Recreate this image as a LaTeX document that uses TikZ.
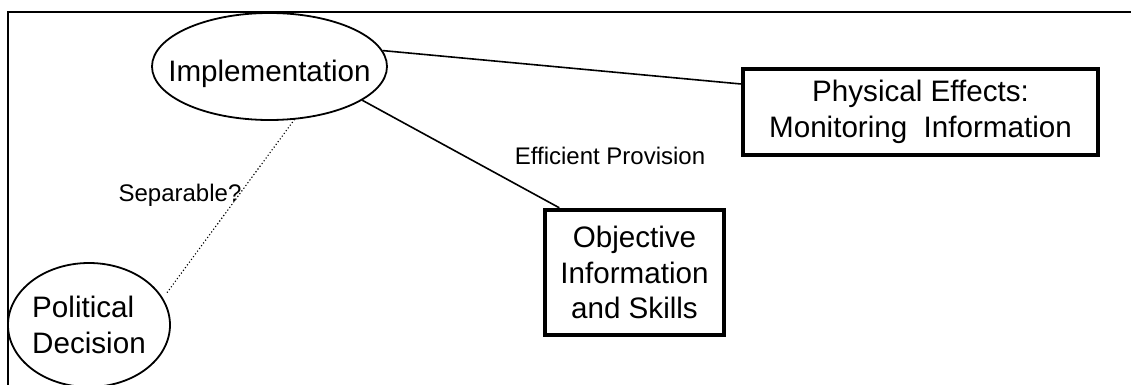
\documentclass[tikz,border=0pt]{standalone}
\usepackage{fontspec}
\setmainfont{Liberation Sans}
\usetikzlibrary{shapes.geometric,calc}
\newcommand\dgbig{\fontsize{14.8}{17.7}\selectfont}
\newcommand\dgsmall{\fontsize{12}{14}\selectfont}
\begin{document}
\begin{tikzpicture}[x=0.5pt,y=-0.5pt,
  ellnode/.style={ellipse, draw, line width=0.9pt, inner sep=0pt, font=\dgbig},
  boxnode/.style={rectangle, draw, line width=2.2pt, inner sep=0pt, align=center, font=\dgbig},
  conn/.style={line width=0.8pt},
  dotconn/.style={line width=0.8pt, line cap=round, dash pattern=on 0pt off 1.7pt},
  lbl/.style={inner sep=0pt, font=\dgsmall},
  framebox/.style={line width=1pt}]
\useasboundingbox (0,0) rectangle (1131,385);
\clip (0,0) rectangle (1131,385);
\draw[framebox] (8,12) rectangle (1200,450);

\node[ellnode, inner xsep=-12pt, minimum width=117.5pt, minimum height=53.5pt, text height=15.5pt, text depth=0pt] (impl) at (269.5,66.5) {Implementation};
\node[ellnode, inner xsep=-3pt, minimum width=81pt, minimum height=62pt, align=left] (pol) at (89,325) {Political\\Decision};
\node[boxnode, minimum width=177.5pt, minimum height=43pt] (phys) at (920.5,112) {Physical Effects:\\Monitoring\ \ Information};
\node[boxnode, minimum width=89.5pt, minimum height=62.5pt] (obj) at (634.5,272.5) {Objective\\Information\\and Skills};

\node[lbl, anchor=base] (sep) at (180,202) {Separable?};
\node[lbl, anchor=base] (eff) at (610,165) {Efficient Provision};

\draw[conn] (impl.8) -- ($(phys.north west)!0.19!(phys.south west)$);
\draw[conn] (impl.-20) -- ($(obj.north west)!0.09!(obj.north east)$);
\draw[dotconn, shorten >=3pt] (impl.-65) -- (pol.20);
\end{tikzpicture}
\end{document}
